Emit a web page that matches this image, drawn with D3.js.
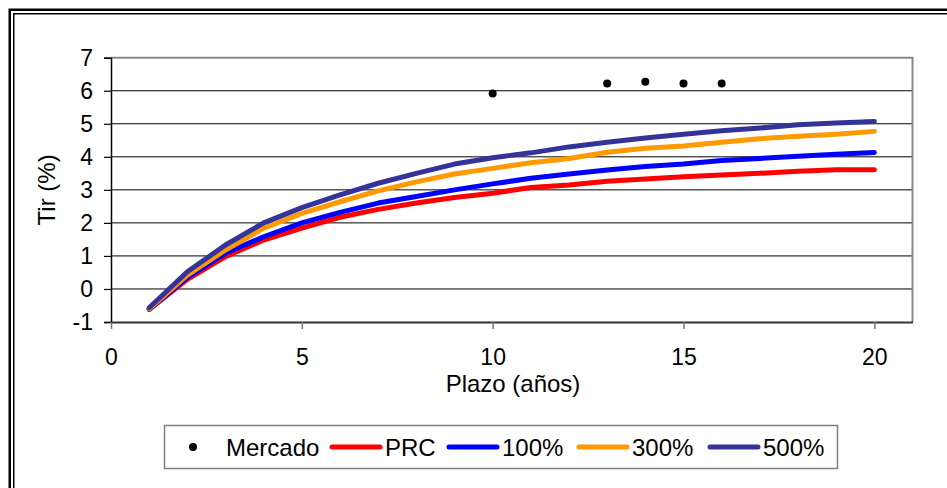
<!DOCTYPE html>
<html><head><meta charset="utf-8">
<script src="https://cdn.jsdelivr.net/npm/d3@7"></script>
<style>
body{margin:0;background:#fff}
svg{display:block}
text{font-family:"Liberation Sans",Arial,sans-serif;fill:#000}
</style>
</head><body>
<svg id="chart" width="947" height="488"></svg>
<script>
// Plazos (años) y curvas de TIR (%)
const plazos = [1,2,3,4,5,6,7,8,9,10,11,12,13,14,15,16,17,18,19,20];
const prc         = [-0.62,0.29,0.98,1.48,1.84,2.17,2.41,2.60,2.77,2.90,3.07,3.15,3.26,3.33,3.40,3.45,3.50,3.56,3.61,3.61];
const pct100      = [-0.62,0.35,1.08,1.58,2.00,2.32,2.60,2.80,3.00,3.18,3.35,3.48,3.60,3.71,3.78,3.89,3.95,4.02,4.08,4.13];
const pct300      = [-0.60,0.42,1.18,1.84,2.29,2.64,2.97,3.24,3.48,3.65,3.82,3.95,4.14,4.26,4.33,4.44,4.55,4.62,4.68,4.77];
const pct500      = [-0.57,0.52,1.33,2.00,2.46,2.85,3.20,3.50,3.78,3.97,4.12,4.30,4.44,4.57,4.68,4.79,4.87,4.97,5.02,5.07];
const mercadoPlazos = [10,13,14,15,16];
const mercado       = [5.92,6.22,6.27,6.22,6.22];
const yTicks = [-1,0,1,2,3,4,5,6,7];
const xTicks = [0,5,10,15,20];
const seriesNames = ["PRC","100%","300%","500%"];
const seriesColors = ["#FF0000","#0000FF","#FF9900","#333399"];
const seriesValues = [prc, pct100, pct300, pct500];

const svg = d3.select("#chart");
const x = d3.scaleLinear().domain([0,21]).range([111,912.5]);
const y = d3.scaleLinear().domain([-1,7]).range([322,57.7]);

// marco doble exterior
svg.append("rect").attr("x",9.75).attr("y",9.75).attr("width",1000).attr("height",600)
  .attr("fill","none").attr("stroke","#000").attr("stroke-width",2.5);
svg.append("rect").attr("x",13.75).attr("y",13.75).attr("width",1000).attr("height",600)
  .attr("fill","none").attr("stroke","#000").attr("stroke-width",1.5);

// líneas de cuadrícula
svg.append("g").selectAll("line").data(yTicks.filter(d => d > -1 && d < 7)).join("line")
  .attr("x1",x(0)).attr("x2",x(21)).attr("y1",d=>y(d)).attr("y2",d=>y(d))
  .attr("stroke","#000").attr("stroke-width",1);

// borde del área de trazado (arriba y derecha en gris)
svg.append("path")
  .attr("d",`M${x(0)},${y(7)}H${x(21)}V${y(-1)}`)
  .attr("fill","none").attr("stroke","#888").attr("stroke-width",2);

// ejes
const yAxis = d3.axisLeft(y).tickValues(yTicks).tickSize(7).tickPadding(11).tickFormat(d => String(d));
const gy = svg.append("g").attr("transform",`translate(${x(0)},0)`).call(yAxis);
gy.select(".domain").attr("stroke","#000").attr("stroke-width",1.5);
gy.selectAll(".tick line").attr("stroke","#000").attr("stroke-width",1.2);
gy.selectAll("text").attr("font-size",23).attr("font-family","Liberation Sans, Arial, sans-serif");

const xAxis = d3.axisBottom(x).tickValues(xTicks).tickSize(7).tickPadding(20).tickSizeOuter(0);
const gx = svg.append("g").attr("transform",`translate(0,${y(-1)})`).call(xAxis);
gx.select(".domain").attr("stroke","#333").attr("stroke-width",2);
gx.selectAll(".tick line").attr("stroke","#777").attr("stroke-width",1.5);
gx.selectAll("text").attr("font-size",23).attr("font-family","Liberation Sans, Arial, sans-serif");

// títulos de ejes
svg.append("text").attr("transform",`translate(55,${(y(7)+y(-1))/2}) rotate(-90)`)
  .attr("text-anchor","middle").attr("font-size",24).text("Tir (%)");
svg.append("text").attr("x",513).attr("y",392)
  .attr("text-anchor","middle").attr("font-size",24).text("Plazo (años)");

// curvas
const line = d3.line().x((d,i)=>x(plazos[i])).y(d=>y(d));
svg.append("g").selectAll("path").data(seriesValues).join("path")
  .attr("d",d=>line(d)).attr("fill","none")
  .attr("stroke",(d,i)=>seriesColors[i]).attr("stroke-width",5)
  .attr("stroke-linecap","round").attr("stroke-linejoin","round");

// puntos de mercado
svg.append("g").selectAll("circle").data(mercado).join("circle")
  .attr("cx",(d,i)=>x(mercadoPlazos[i])).attr("cy",d=>y(d)).attr("r",4).attr("fill","#000");

// leyenda
const lg = svg.append("g");
lg.append("rect").attr("x",164.5).attr("y",425.5).attr("width",673).attr("height",43)
  .attr("fill","#fff").attr("stroke","#808080").attr("stroke-width",1.5);
const ly = 447;
lg.append("circle").attr("cx",193).attr("cy",ly).attr("r",4).attr("fill","#000");
lg.append("text").attr("x",226).attr("y",ly+8.5).attr("font-size",24).text("Mercado");
const lineX = [330,447,577,708];
seriesNames.forEach((n,i)=>{
  lg.append("line").attr("x1",lineX[i]+2).attr("x2",lineX[i]+50).attr("y1",ly).attr("y2",ly)
    .attr("stroke",seriesColors[i]).attr("stroke-width",5).attr("stroke-linecap","round");
  lg.append("text").attr("x",lineX[i]+55).attr("y",ly+8.5).attr("font-size",24).text(n);
});
</script>
</body></html>
